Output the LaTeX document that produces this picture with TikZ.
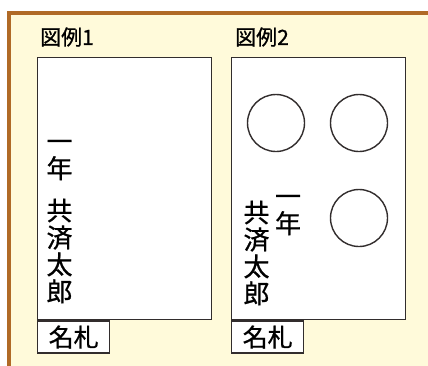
\documentclass[tikz,border=0pt]{standalone}
\usepackage{fontspec}
\newfontfamily\jpfont{Noto Sans CJK JP}[FakeBold=0.8]
\definecolor{frameline}{RGB}{176,106,38}
\definecolor{framefill}{RGB}{255,250,218}
\definecolor{inkline}{RGB}{50,45,45}

\begin{document}
\begin{tikzpicture}[x=1pt, y=-1pt,
		card/.style={draw=inkline, line width=1.4pt, fill=white, inner sep=0pt, anchor=north west, minimum width=174pt, minimum height=262pt},
		tagbox/.style={draw=inkline, line width=1.4pt, fill=white, inner sep=0pt, anchor=north west, minimum width=72pt, minimum height=32pt, font=\jpfont\fontsize{25}{25}\selectfont},
		seal/.style={draw=inkline, line width=1.4pt, circle, minimum size=57pt, inner sep=0pt},
		tate/.style={inner sep=0pt, align=center, font=\jpfont\fontsize{26}{27}\selectfont},
		caption/.style={inner sep=0pt, anchor=west, font=\jpfont\fontsize{21}{21}\selectfont}]
		\useasboundingbox (0,0) rectangle (428,365);
		\fill[white] (0,0) rectangle (428,365);
		\draw[frameline, line width=4pt, fill=framefill] (9,13) rectangle (450,390);

		% 図例1
		\node[caption] (title1) at (40,37) {図例1};
		\node[card] (card1) at (37,57) {};
		\node[tagbox] (tag1) at (card1.south west) {名札};
		\node[tate] (year1) at (59.5,160) {一\\年};
		\node[tate] (name1) at (59.5,251) {共\\済\\太\\郎};

		% 図例2
		\node[caption] (title2) at (235,37) {図例2};
		\node[card] (card2) at (231,57) {};
		\node[tagbox] (tag2) at (card2.south west) {名札};
		\node[seal] (sealA) at (276,123) {};
		\node[seal] (sealB) at (359,123) {};
		\node[seal] (sealC) at (359,218) {};
		\node[tate] (year2) at (288,215) {一\\年};
		\node[tate] (name2) at (256.5,253) {共\\済\\太\\郎};
	\end{tikzpicture}
\end{document}
